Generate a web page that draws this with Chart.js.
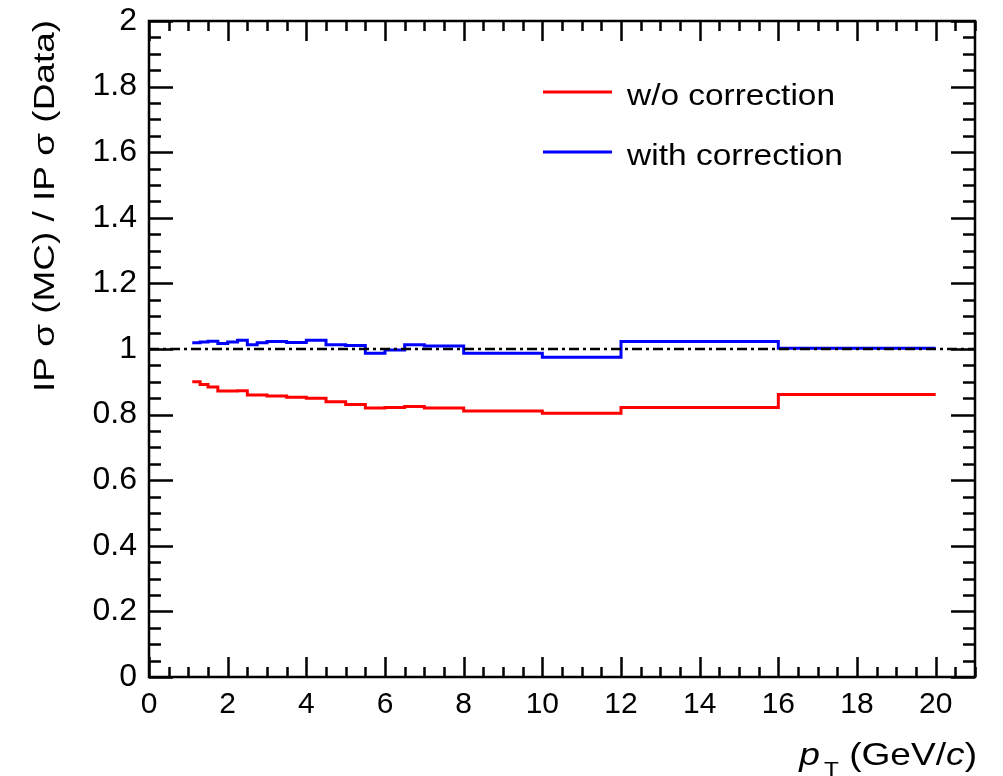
<!DOCTYPE html>
<html>
<head>
<meta charset="utf-8">
<script src="https://cdn.jsdelivr.net/npm/chart.js@4"></script>
<style>
  html, body { margin: 0; padding: 0; background: #fff; }
  #wrap { width: 1003px; height: 776px; position: relative; }
</style>
</head>
<body>
<div id="wrap"><canvas id="ipChart"></canvas></div>
<script>
// pT bin edges (GeV/c) and the IP resolution ratio in each bin
const binEdges = [1.1, 1.3, 1.5, 1.75, 2, 2.25, 2.5, 2.75, 3, 3.5, 4, 4.5, 5, 5.5, 6, 6.5, 7, 8, 10, 12, 16, 20];
const ratioNoCorr = [0.900, 0.892, 0.884, 0.872, 0.872, 0.873, 0.860, 0.860, 0.857, 0.853, 0.850,
                     0.839, 0.831, 0.820, 0.822, 0.825, 0.820, 0.811, 0.804, 0.822, 0.861];
const ratioCorr = [1.019, 1.021, 1.024, 1.017, 1.021, 1.027, 1.013, 1.019, 1.023, 1.020, 1.027,
                   1.013, 1.011, 0.987, 0.997, 1.013, 1.009, 0.987, 0.975, 1.023, 1.002];
const xTicks = [0, 2, 4, 6, 8, 10, 12, 14, 16, 18, 20];
const yTicks = [0, 0.2, 0.4, 0.6, 0.8, 1, 1.2, 1.4, 1.6, 1.8, 2];
const xRange = [0, 21];
const yRange = [0, 2];
const unityLine = [{ x: 0, y: 1 }, { x: 21, y: 1 }];

// histogram outline: one point per left edge, last value repeated at the upper edge
function histPoints(edges, vals) {
    return edges.map((e, i) => ({ x: e, y: vals[Math.min(i, vals.length - 1)] }));
}

const FONT = '"Liberation Sans", Arial, Helvetica, sans-serif';

// text squeezed/stretched to a given width
function fitText(ctx, str, x, y, font, width) {
    ctx.save();
    ctx.font = font;
    let w = ctx.measureText(str).width;
    ctx.translate(x, y);
    ctx.scale(width / w, 1);
    ctx.fillText(str, 0, 0);
    ctx.restore();
}

// ROOT style frame with inward ticks on all four sides, legend and axis titles
const framePlugin = {
    id: 'frame',
    afterDatasetsDraw(chart) {
        const { ctx, chartArea: a, scales: { x, y } } = chart;
        ctx.save();
        ctx.strokeStyle = '#000';
        ctx.lineWidth = 2.5;
        ctx.beginPath();
        // x ticks every 0.5, major every 2
        for (let v = xRange[0]; v <= xRange[1] + 1e-9; v += 0.5) {
            let px = Math.round(x.getPixelForValue(v)) + 0.5;
            let len = (Math.abs(v / 2 - Math.round(v / 2)) < 1e-6) ? 20 : 10;
            ctx.moveTo(px, a.bottom); ctx.lineTo(px, a.bottom - len);
            ctx.moveTo(px, a.top); ctx.lineTo(px, a.top + len);
        }
        // y ticks every 0.05, major every 0.2
        for (let k = 0; k <= 40; k++) {
            let v = k * 0.05;
            let py = Math.round(y.getPixelForValue(v)) + 0.5;
            let len = (k % 4 === 0) ? 24 : 12;
            ctx.moveTo(a.left, py); ctx.lineTo(a.left + len, py);
            ctx.moveTo(a.right, py); ctx.lineTo(a.right - len, py);
        }
        ctx.stroke();
        ctx.strokeRect(a.left, a.top, a.right - a.left, a.bottom - a.top);

        // legend
        ctx.lineWidth = 3;
        ctx.fillStyle = '#000';
        ctx.textBaseline = 'alphabetic';
        const entries = [chart.data.datasets[1], chart.data.datasets[2]];
        const rows = [{ y: 92, w: 208 }, { y: 152, w: 216 }];
        entries.forEach((ds, i) => {
            ctx.strokeStyle = ds.borderColor;
            ctx.beginPath();
            ctx.moveTo(543, rows[i].y); ctx.lineTo(612, rows[i].y);
            ctx.stroke();
            fitText(ctx, ds.label, 627, rows[i].y + 13, '30px ' + FONT, rows[i].w);
        });

        // y title, rotated, aligned to the top of the axis
        ctx.save();
        ctx.translate(54, 392);
        ctx.rotate(-Math.PI / 2);
        fitText(ctx, 'IP σ (MC) / IP σ (Data)', 0, 0, '30px ' + FONT, 372);
        ctx.restore();

        // x title: p_T (GeV/c), right aligned
        const parts = [
            { t: 'p', f: 'italic 32px ' + FONT, dy: 0 },
            { t: 'T', f: '21px ' + FONT, dy: 11, gap: 4 },
            { t: ' (GeV/', f: '32px ' + FONT, dy: 0 },
            { t: 'c', f: 'italic 32px ' + FONT, dy: 0 },
            { t: ')', f: '32px ' + FONT, dy: 0 }
        ];
        const sx = 1.16;
        let total = 0;
        parts.forEach(p => { ctx.font = p.f; p.w = ctx.measureText(p.t).width * sx + (p.gap || 0); total += p.w; });
        let cx = 977 - total;
        parts.forEach(p => {
            ctx.save();
            ctx.font = p.f;
            ctx.translate(cx + (p.gap || 0), 765 + p.dy);
            ctx.scale(sx, 1);
            ctx.fillText(p.t, 0, 0);
            ctx.restore();
            cx += p.w;
        });
        ctx.restore();
    }
};

const ctx = document.getElementById('ipChart').getContext('2d');
const ipChart = new Chart(ctx, {
    type: 'line',
    data: {
        datasets: [
            {
                label: 'unity',
                data: unityLine,
                borderColor: '#000',
                borderWidth: 2.5,
                borderDash: [10, 4, 3, 4],
                pointRadius: 0,
                order: 0
            },
            {
                label: 'w/o correction',
                data: histPoints(binEdges, ratioNoCorr),
                borderColor: '#ff0000',
                borderWidth: 3,
                stepped: 'before',
                pointRadius: 0,
                order: 1
            },
            {
                label: 'with correction',
                data: histPoints(binEdges, ratioCorr),
                borderColor: '#0000ff',
                borderWidth: 3,
                stepped: 'before',
                pointRadius: 0,
                order: 2
            }
        ]
    },
    options: {
        responsive: true,
        maintainAspectRatio: false,
        animation: false,
        layout: { padding: { top: 21, right: 28, left: 0, bottom: 0 } },
        plugins: {
            legend: { display: false },
            tooltip: { enabled: false }
        },
        scales: {
            x: {
                type: 'linear',
                min: xRange[0],
                max: xRange[1],
                grid: { display: false, drawTicks: false },
                border: { display: false },
                afterBuildTicks: s => { s.ticks = xTicks.map(v => ({ value: v })); },
                afterFit: s => { s.height = 99; s.paddingLeft = 0; s.paddingRight = 0; },
                ticks: {
                    padding: 10,
                    maxRotation: 0,
                    autoSkip: false,
                    color: '#000',
                    font: { family: FONT, size: 30 },
                    callback: v => String(v)
                }
            },
            y: {
                type: 'linear',
                min: yRange[0],
                max: yRange[1],
                grid: { display: false, drawTicks: false },
                border: { display: false },
                afterBuildTicks: s => { s.ticks = yTicks.map(v => ({ value: v })); },
                afterFit: s => { s.width = 149; s.paddingTop = 0; s.paddingBottom = 0; },
                ticks: {
                    padding: 12,
                    autoSkip: false,
                    color: '#000',
                    font: { family: FONT, size: 32 },
                    callback: v => String(+v.toFixed(1))
                }
            }
        }
    },
    plugins: [framePlugin]
});
</script>
</body>
</html>
